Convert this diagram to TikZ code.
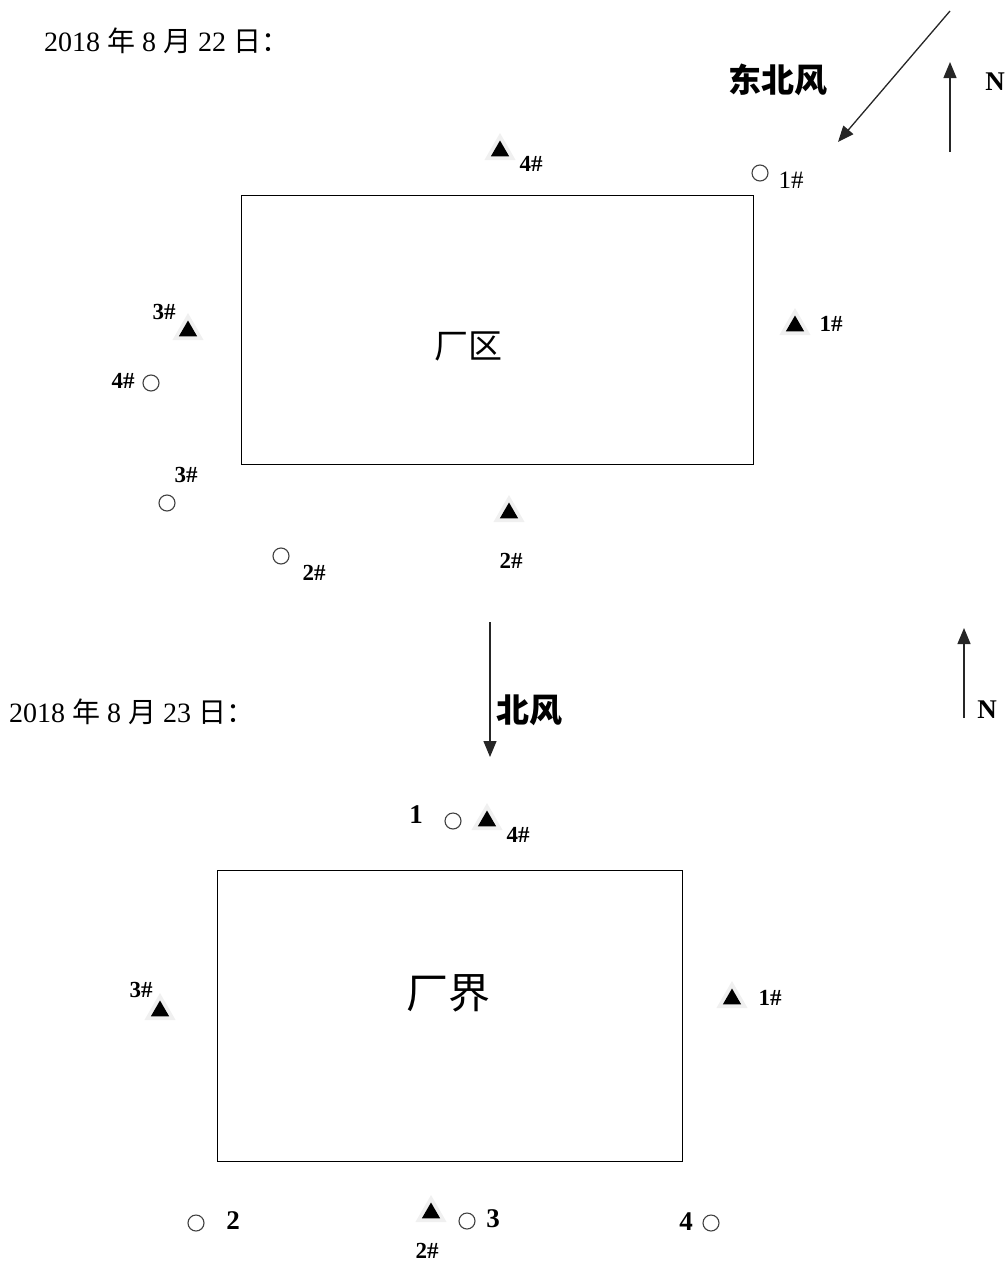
\documentclass[tikz,border=0pt]{standalone}
\usepackage{fontspec}
\setmainfont{Liberation Serif}
\newfontfamily\cjk{Noto Sans CJK SC}
\usetikzlibrary{shapes.geometric,arrows.meta}
\newcommand\cj[1]{{\cjk #1}}
\tikzset{
  txt/.style={inner sep=0pt, font=\fontsize{28}{28}\selectfont},
  lab/.style={inner sep=0pt, font=\fontsize{23}{23}\selectfont\bfseries},
  labr/.style={inner sep=0pt, font=\fontsize{25}{25}\selectfont},
  num/.style={inner sep=0pt, font=\fontsize{27}{27}\selectfont\bfseries},
  halo/.style={regular polygon, regular polygon sides=3, fill=black!6, inner sep=0pt, minimum size=36pt},
  tri/.style={regular polygon, regular polygon sides=3, fill=black, inner sep=0pt, minimum size=21pt},
  circ/.style={circle, draw=black!75, line width=1.1pt, fill=white, inner sep=0pt, minimum size=16pt},
  area/.style={draw=black, line width=1.4pt},
  arr/.style={draw=black!85, line width=1.3pt, -{Triangle[length=16pt,width=13pt]}},
  wind/.style={inner sep=0pt, font=\fontsize{33}{33}\selectfont\cjk\bfseries},
  north/.style={inner sep=0pt, font=\fontsize{27}{27}\selectfont\bfseries},
}
\newcommand\tri[2]{\node[halo] (#1h) at (#2) {}; \node[tri] (#1) at (#2) {};}
\begin{document}
\begin{tikzpicture}[x=1pt,y=-1pt]
\useasboundingbox (0,0) rectangle (1007,1263);
% ---------- top (22 Aug) ----------
\node[txt, anchor=west] (d1) at (44,41) {2018 \cj{年} 8 \cj{月} 22 \cj{日：}};
\node[area, minimum width=512pt, minimum height=269pt, anchor=north west, inner sep=0pt] (zone1) at (241,195) {};
\node[inner sep=0pt, font=\fontsize{34}{34}\selectfont\cjk] (zone1t) at (468,346) {厂区};
% wind NE
\coordinate (ne1) at (950,11);
\coordinate (ne2) at (838,142);
\draw[arr] (ne1) -- (ne2);
\node[wind] (wind1) at (778,80) {东北风};
\coordinate (n1a) at (950,152);
\coordinate (n1b) at (950,62);
\draw[arr] (n1a) -- (n1b);
\node[north] (n1) at (995,82) {N};
% markers
\tri{t4}{500,151}
\node[lab] (t4l) at (531,164) {4\#};
\node[circ] (c1) at (760,173) {};
\node[labr] (c1l) at (791,180) {1\#};
\tri{t1}{795,326}
\node[lab] (t1l) at (831,324) {1\#};
\node[lab] (t3l) at (164,312) {3\#};
\tri{t3}{188,331}
\node[lab] (c4l) at (123,381) {4\#};
\node[circ] (c4) at (151,383) {};
\node[lab] (c3l) at (186,475) {3\#};
\node[circ] (c3) at (167,503) {};
\node[circ] (c2) at (281,556) {};
\node[lab] (c2l) at (314,573) {2\#};
\tri{t2}{509,513}
\node[lab] (t2l) at (511,561) {2\#};
% ---------- bottom (23 Aug) ----------
\node[txt, anchor=west] (d2) at (9,712) {2018 \cj{年} 8 \cj{月} 23 \cj{日：}};
\coordinate (nw1) at (490,622);
\coordinate (nw2) at (490,757);
\draw[arr] (nw1) -- (nw2);
\node[wind] (wind2) at (529,710) {北风};
\coordinate (n2a) at (964,718);
\coordinate (n2b) at (964,628);
\draw[arr] (n2a) -- (n2b);
\node[north] (n2) at (987,710) {N};
\node[area, minimum width=465pt, minimum height=291pt, anchor=north west, inner sep=0pt] (zone2) at (217,870) {};
\node[inner sep=0pt, font=\fontsize{42}{42}\selectfont\cjk] (zone2t) at (448,993) {厂界};
\node[num] (p1) at (416,815) {1};
\node[circ] (q1) at (453,821) {};
\tri{u4}{487,821}
\node[lab] (u4l) at (518,835) {4\#};
\node[lab] (u3l) at (141,990) {3\#};
\tri{u3}{160,1011}
\tri{u1}{732,999}
\node[lab] (u1l) at (770,998) {1\#};
\node[circ] (q2) at (196,1223) {};
\node[num] (p2) at (233,1221) {2};
\tri{u2}{431,1213}
\node[lab] (u2l) at (427,1251) {2\#};
\node[circ] (q3) at (467,1221) {};
\node[num] (p3) at (493,1219) {3};
\node[num] (p4) at (686,1222) {4};
\node[circ] (q4) at (711,1223) {};
\end{tikzpicture}
\end{document}
